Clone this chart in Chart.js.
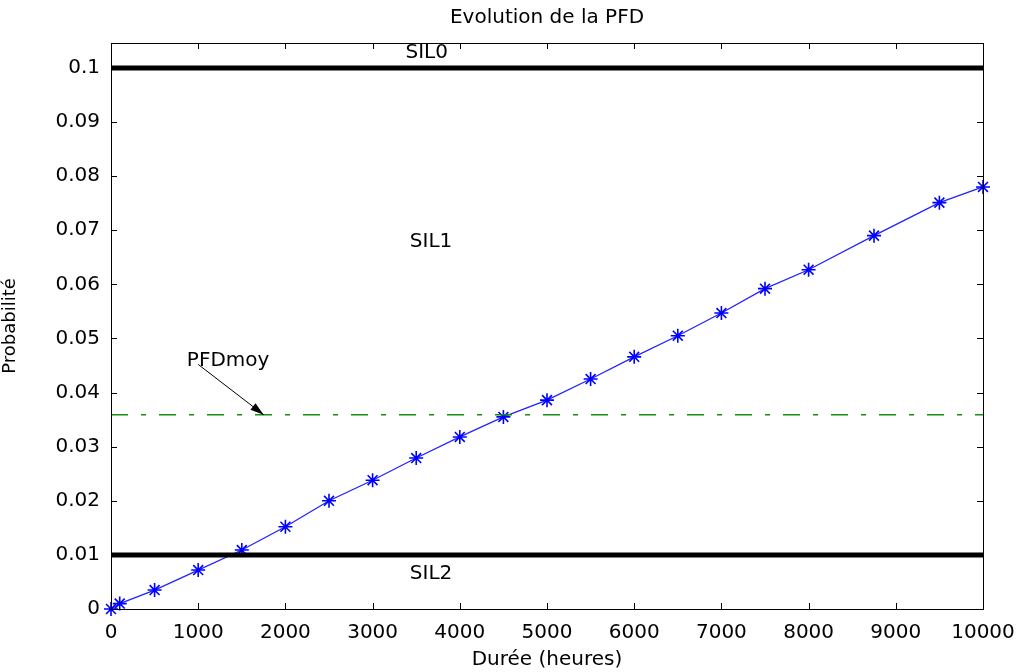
<!DOCTYPE html>
<html>
<head>
<meta charset="utf-8">
<script src="https://cdn.jsdelivr.net/npm/chart.js@4/dist/chart.umd.min.js"></script>
<style>
  html, body { margin: 0; padding: 0; background: #fff; }
  #wrap { width: 1018px; height: 672px; }
</style>
</head>
<body>
<div id="wrap"><canvas id="myChart" width="1018" height="672"></canvas></div>
<script>
"use strict";
// heures
const durations = [0, 100, 500, 1000, 1500, 2000, 2500, 3000, 3500, 4000, 4500,
  5000, 5500, 6000, 6500, 7000, 7500, 8000, 8750, 9500, 10000];
// probabilité PFD
const pfd = [0, 0.001, 0.0035, 0.0072, 0.0109, 0.0152, 0.0200, 0.0238, 0.0279,
  0.0318, 0.0355, 0.0386, 0.0425, 0.0466, 0.0505, 0.0547, 0.0592, 0.0627,
  0.0690, 0.0751, 0.0780];
const pfdMoy = 0.0359;
const sil0 = 0.1;
const sil2 = 0.01;
const xTicks = [0, 1000, 2000, 3000, 4000, 5000, 6000, 7000, 8000, 9000, 10000];
const yTicks = [0, 0.01, 0.02, 0.03, 0.04, 0.05, 0.06, 0.07, 0.08, 0.09, 0.1];
const yLabels = ["0", "0.01", "0.02", "0.03", "0.04", "0.05", "0.06", "0.07", "0.08", "0.09", "0.1"];

const FONT = "'DejaVu Sans', sans-serif";

const toPoints = (xs, ys) => xs.map((x, i) => ({ x, y: ys[i] }));
const hLine = (y) => [{ x: 0, y }, { x: 10000, y }];

const matlabFrame = {
  id: "matlabFrame",
  afterDraw(chart) {
    const { ctx, chartArea: a, scales } = chart;
    const xs = scales.x, ys = scales.y;
    ctx.save();
    ctx.strokeStyle = "#000";
    ctx.lineWidth = 1;
    ctx.strokeRect(a.left + 0.5, a.top + 0.5, a.right - a.left, a.bottom - a.top);
    const tl = 6;
    ctx.beginPath();
    for (const v of xTicks) {
      const px = Math.round(xs.getPixelForValue(v)) + 0.5;
      ctx.moveTo(px, a.bottom); ctx.lineTo(px, a.bottom - tl);
      ctx.moveTo(px, a.top); ctx.lineTo(px, a.top + tl);
    }
    for (const v of yTicks) {
      const py = Math.round(ys.getPixelForValue(v)) + 0.5;
      ctx.moveTo(a.left, py); ctx.lineTo(a.left + tl, py);
      ctx.moveTo(a.right, py); ctx.lineTo(a.right - tl, py);
    }
    ctx.stroke();

    ctx.fillStyle = "#000";
    ctx.font = "20px " + FONT;
    ctx.textAlign = "center";
    ctx.textBaseline = "middle";
    ctx.fillText("Evolution de la PFD", (a.left + a.right) / 2, 18);

    const label = (t, x, y, align) => {
      ctx.textAlign = align || "center";
      ctx.fillText(t, xs.getPixelForValue(x), ys.getPixelForValue(y));
    };
    label("SIL0", 3620, 0.1028);
    label("SIL1", 3670, 0.0678);
    label("SIL2", 3670, 0.0065);
    label("PFDmoy", 870, 0.0458, "left");

    // flèche vers la moyenne
    const x1 = xs.getPixelForValue(1000), y1 = ys.getPixelForValue(0.0452);
    const x2 = xs.getPixelForValue(1750), y2 = ys.getPixelForValue(pfdMoy);
    ctx.beginPath();
    ctx.moveTo(x1, y1); ctx.lineTo(x2, y2);
    ctx.stroke();
    const ang = Math.atan2(y2 - y1, x2 - x1);
    const hl = 14, hw = 0.3;
    ctx.beginPath();
    ctx.moveTo(x2, y2);
    ctx.lineTo(x2 - hl * Math.cos(ang - hw), y2 - hl * Math.sin(ang - hw));
    ctx.lineTo(x2 - hl * Math.cos(ang + hw), y2 - hl * Math.sin(ang + hw));
    ctx.closePath();
    ctx.fill();
    ctx.restore();
  },
};

const createChart = () => {
  const ctx = document.getElementById("myChart").getContext("2d");
  return new Chart(ctx, {
    type: "scatter",
    data: {
      datasets: [
        {
          label: "SIL0",
          data: hLine(sil0),
          showLine: true,
          borderColor: "#000",
          borderWidth: 5,
          pointRadius: 0,
        },
        {
          label: "SIL2",
          data: hLine(sil2),
          showLine: true,
          borderColor: "#000",
          borderWidth: 5,
          pointRadius: 0,
        },
        {
          label: "PFDmoy",
          data: hLine(pfdMoy),
          showLine: true,
          borderColor: "#1a8c1a",
          borderWidth: 1.3,
          borderDash: [17, 13, 5, 13],
          pointRadius: 0,
        },
        {
          label: "PFD",
          data: toPoints(durations, pfd),
          showLine: true,
          borderColor: "#2222ff",
          borderWidth: 1.3,
          pointStyle: "star",
          pointRadius: 7,
          pointBorderColor: "#0000ff",
          pointBackgroundColor: "#0000ff",
          pointBorderWidth: 1.6,
        },
      ],
    },
    options: {
      responsive: false,
      animation: false,
      clip: false,
      layout: { padding: { top: 43, right: 35, left: 0, bottom: 0 } },
      plugins: {
        legend: { display: false },
        tooltip: { enabled: false },
        title: { display: false },
      },
      scales: {
        x: {
          type: "linear",
          min: 0,
          max: 10000,
          afterBuildTicks: (s) => { s.ticks = xTicks.map((v) => ({ value: v })); },
          afterFit: (s) => {
            s.height = 63;
            s.paddingLeft = 0;
            s.paddingRight = 0;
          },
          grid: { display: false, drawTicks: false },
          border: { display: false },
          ticks: {
            color: "#000",
            font: { family: FONT, size: 20 },
            padding: 12,
            maxRotation: 0,
            autoSkip: false,
            callback: (v) => String(v),
          },
          title: {
            display: true,
            text: "Durée (heures)",
            color: "#000",
            font: { family: FONT, size: 20 },
            padding: { top: 0, bottom: 0 },
          },
        },
        y: {
          type: "linear",
          min: 0,
          max: 0.1046,
          afterBuildTicks: (s) => { s.ticks = yTicks.map((v) => ({ value: v })); },
          afterFit: (s) => {
            s.width = 111;
            s.paddingTop = 0;
            s.paddingBottom = 0;
          },
          grid: { display: false, drawTicks: false },
          border: { display: false },
          ticks: {
            color: "#000",
            font: { family: FONT, size: 20 },
            padding: 11,
            autoSkip: false,
            callback: (v, i) => yLabels[i],
          },
          title: {
            display: true,
            text: "Probabilité",
            color: "#000",
            font: { family: FONT, size: 18 },
            padding: { top: 0, bottom: 0 },
          },
        },
      },
    },
    plugins: [matlabFrame],
  });
};

createChart();
</script>
</body>
</html>
